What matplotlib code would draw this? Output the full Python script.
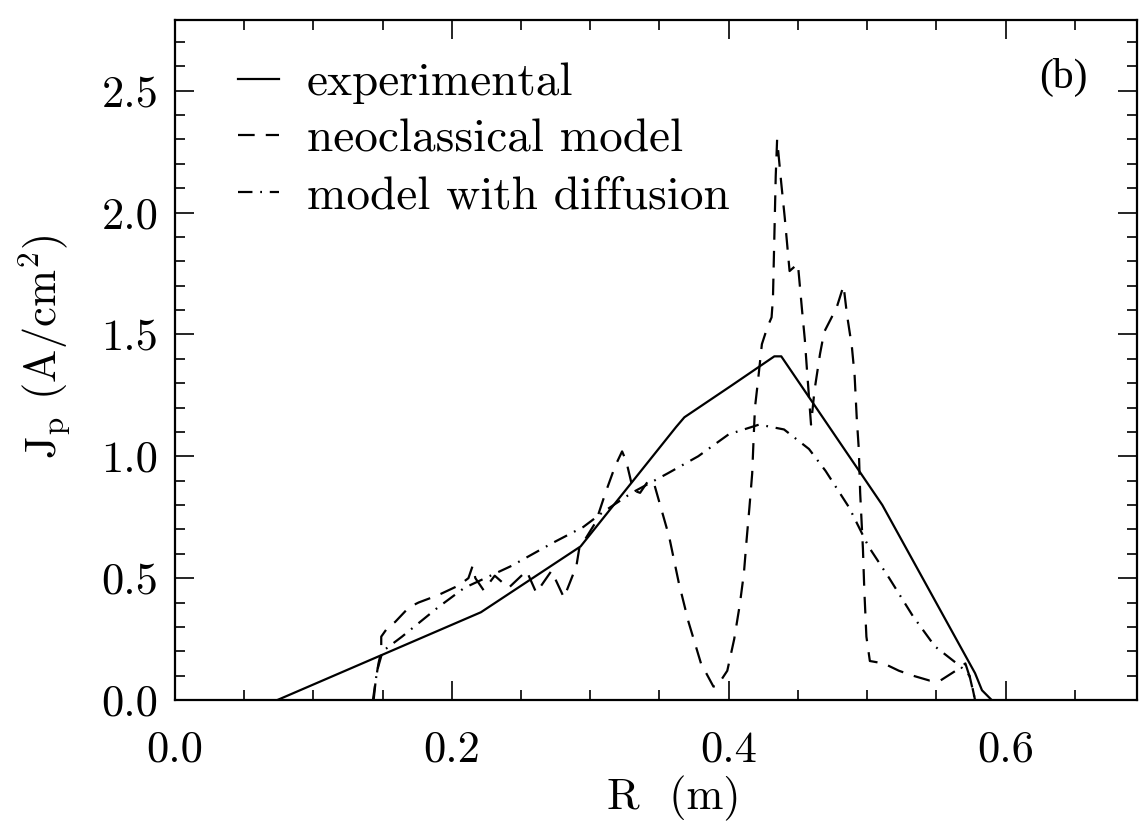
import matplotlib
matplotlib.use("Agg")
import matplotlib.pyplot as plt
from matplotlib.ticker import MultipleLocator, FormatStrFormatter

# ---- data ----
r_exp = [0.074, 0.221, 0.293, 0.362, 0.368, 0.402, 0.433, 0.438, 0.511, 0.578, 0.583, 0.590]
j_exp = [0.0, 0.36, 0.63, 1.12, 1.16, 1.29, 1.41, 1.41, 0.80, 0.11, 0.04, 0.0]

r_neo = [0.1435, 0.145, 0.147, 0.149, 0.149, 0.154, 0.159, 0.169, 0.176, 0.190,
         0.205, 0.212, 0.215, 0.217, 0.223, 0.231, 0.241, 0.254, 0.261, 0.272,
         0.281, 0.290, 0.292, 0.304, 0.311, 0.318, 0.323, 0.326, 0.331, 0.336,
         0.342, 0.346, 0.357, 0.364, 0.371, 0.380, 0.389, 0.392, 0.399, 0.404,
         0.408, 0.411, 0.413, 0.415, 0.417, 0.418, 0.419, 0.421, 0.424, 0.428,
         0.431, 0.432, 0.433, 0.434, 0.435, 0.438, 0.4405, 0.444, 0.450, 0.453,
         0.455, 0.4565, 0.4595, 0.462, 0.466, 0.469, 0.478, 0.483, 0.4855, 0.489,
         0.491, 0.4925, 0.494, 0.495, 0.497, 0.498, 0.4995, 0.502, 0.512, 0.523,
         0.533, 0.545, 0.553, 0.564, 0.571, 0.575, 0.578]
j_neo = [0.0, 0.08, 0.15, 0.20, 0.26, 0.30, 0.32, 0.38, 0.40, 0.43,
         0.47, 0.50, 0.55, 0.50, 0.45, 0.51, 0.46, 0.53, 0.44, 0.53,
         0.42, 0.55, 0.62, 0.73, 0.85, 0.96, 1.02, 0.98, 0.86, 0.85,
         0.90, 0.89, 0.67, 0.48, 0.32, 0.15, 0.055, 0.06, 0.12, 0.25,
         0.39, 0.52, 0.66, 0.79, 0.93, 1.07, 1.20, 1.30, 1.46, 1.53,
         1.57, 1.65, 1.90, 2.15, 2.30, 2.12, 1.98, 1.76, 1.79, 1.60,
         1.48, 1.36, 1.13, 1.27, 1.42, 1.51, 1.61, 1.70, 1.58, 1.45,
         1.33, 1.16, 1.03, 0.85, 0.62, 0.45, 0.26, 0.16, 0.15, 0.12,
         0.10, 0.08, 0.08, 0.12, 0.15, 0.08, 0.0]

r_dif = [0.143, 0.146, 0.150, 0.164, 0.190, 0.209, 0.243, 0.273, 0.295, 0.309,
         0.330, 0.356, 0.378, 0.400, 0.422, 0.440, 0.458, 0.470, 0.487, 0.501,
         0.516, 0.533, 0.549, 0.567, 0.574, 0.578]
j_dif = [0.0, 0.12, 0.20, 0.26, 0.38, 0.46, 0.55, 0.645, 0.71, 0.77,
         0.85, 0.93, 1.00, 1.09, 1.13, 1.11, 1.03, 0.94, 0.79, 0.63,
         0.50, 0.345, 0.22, 0.14, 0.10, 0.0]

labels = ["experimental", "neoclassical model", "model with diffusion"]
x_ticks = [0.0, 0.2, 0.4, 0.6]
y_ticks = [0.0, 0.5, 1.0, 1.5, 2.0, 2.5]

# ---- style ----
plt.rcParams["font.family"] = ["cmr10", "DejaVu Serif"]
plt.rcParams["mathtext.fontset"] = "cm"
plt.rcParams["axes.formatter.use_mathtext"] = True

fig = plt.figure(figsize=(11.41, 8.24), dpi=100)
ax = fig.add_axes([175/1141, 124/824, (1137-175)/1141, (700-20)/824])

lw = 1.6
ax.plot(r_exp, j_exp, color="black", lw=lw, linestyle="-", label=labels[0])
ax.plot(r_neo, j_neo, color="black", lw=lw, linestyle=(0, (7.5, 5.0)), label=labels[1])
ax.plot(r_dif, j_dif, color="black", lw=lw, linestyle=(0, (6.5, 3.5, 0.8, 3.5)), label=labels[2])

ax.set_xlim(0, 0.695)
ax.set_ylim(0, 2.79)
ax.set_xticks(x_ticks)
ax.set_yticks(y_ticks)
ax.xaxis.set_minor_locator(MultipleLocator(0.05))
ax.yaxis.set_minor_locator(MultipleLocator(0.1))
ax.xaxis.set_major_formatter(FormatStrFormatter("%.1f"))
ax.yaxis.set_major_formatter(FormatStrFormatter("%.1f"))

ax.tick_params(which="both", direction="in", top=True, right=True, width=1.2, colors="black")
ax.tick_params(which="major", length=14, labelsize=32)
ax.tick_params(axis="x", which="major", pad=22)
ax.tick_params(axis="y", which="major", pad=12)
ax.tick_params(which="minor", length=7)
for s in ax.spines.values():
    s.set_linewidth(1.6)

ax.set_xlabel("R  (m)", fontsize=32)
ax.xaxis.set_label_coords(0.519, -0.112)
ax.set_ylabel(r"J$_{\rm p}$ (A/cm$^2$)", fontsize=32)
ax.yaxis.set_label_coords(-0.107, 0.519)

leg = ax.legend(loc="upper left", bbox_to_anchor=(0.066, 0.938), frameon=False,
                fontsize=34, handlelength=0.85, handletextpad=0.6,
                labelspacing=0.31, borderaxespad=0.0, borderpad=0.0)

ax.text(0.949, 0.915, "(b)", transform=ax.transAxes, ha="right", va="center",
        fontsize=30, family="Liberation Serif")

fig.savefig("out.png", dpi=100)
